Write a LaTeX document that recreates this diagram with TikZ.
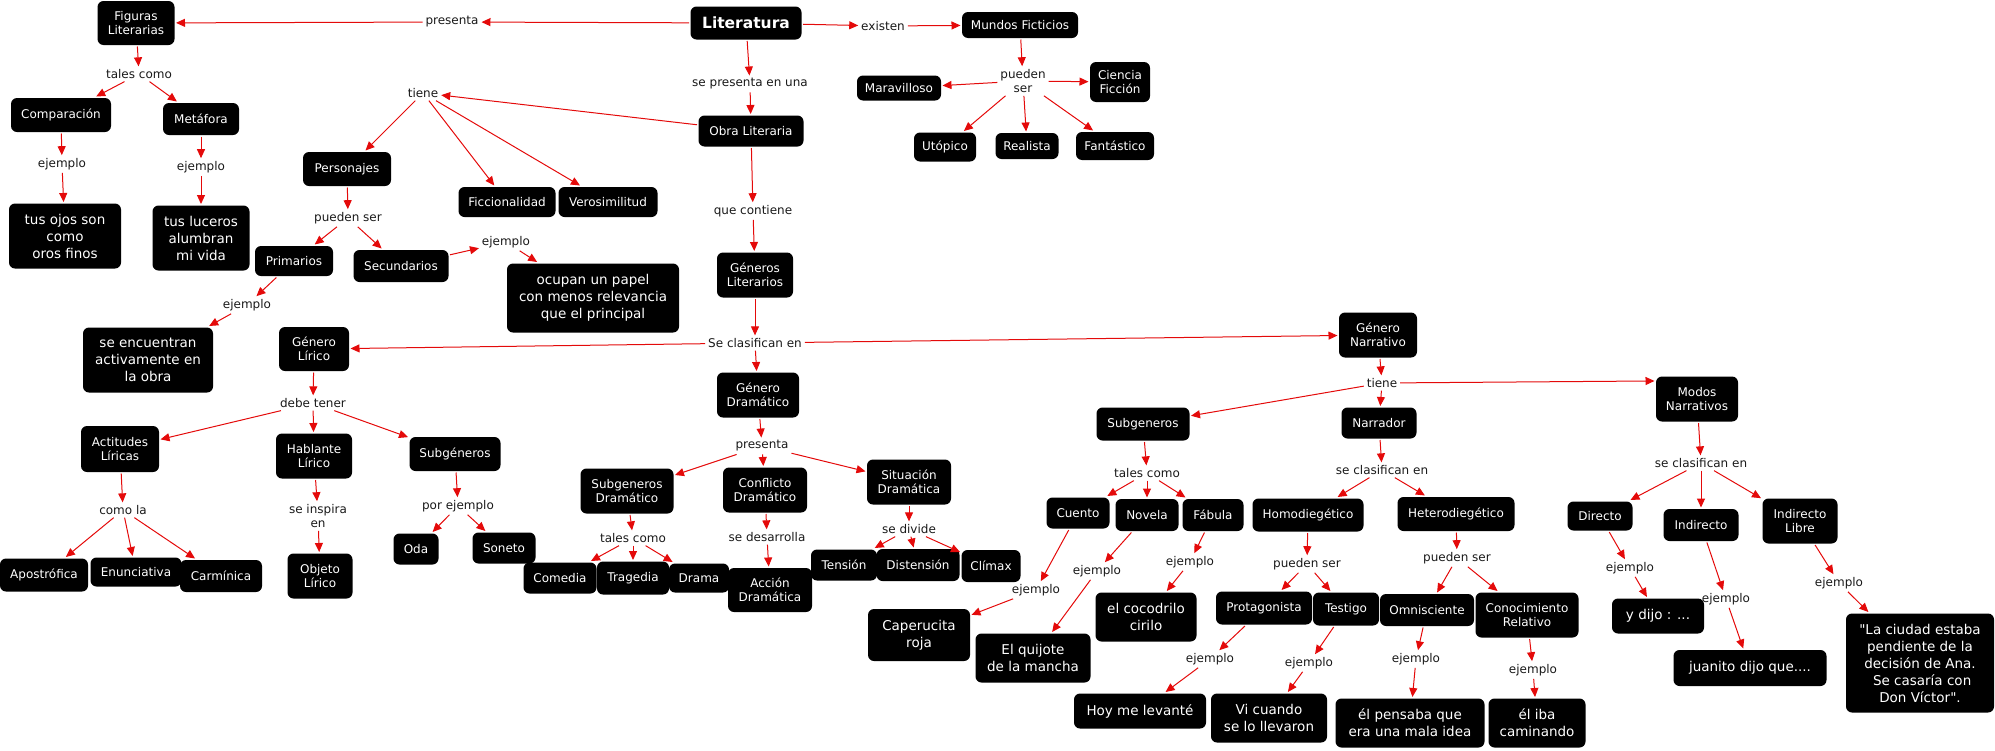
\documentclass[tikz,border=0pt]{standalone}
\usepackage{fontspec}
\setmainfont{DejaVu Sans}[Ligatures=TeXOff]
\usetikzlibrary{arrows.meta}
\definecolor{mapred}{RGB}{228,10,10}
\tikzset{
  concept/.style={fill=black, text=white, rounded corners=6pt, align=center, inner sep=2pt, outer sep=1.5pt, font=\fontsize{12}{14.3}\selectfont},
  cbox/.style 2 args={concept, minimum width=#1pt, minimum height=#2pt},
  cbig/.style 2 args={cbox={#1}{#2}, font=\fontsize{13.5}{17}\selectfont},
  phrase/.style={text=black!90, align=center, inner sep=1pt, outer sep=2pt, font=\fontsize{12}{14.3}\selectfont},
  conn/.style={draw=mapred, line width=1pt, -{Triangle[length=9pt,width=8pt]}}
}
\begin{document}
\begin{tikzpicture}[x=1pt, y=-1pt]
    \useasboundingbox (0,0) rectangle (1995,750);
    % Concepts (top part)
    \node[cbox={111}{33}, font=\bfseries\fontsize{15.5}{18}\selectfont] (lit) at (746,23) {Literatura};
    \node[cbox={77}{44}] (figlit) at (136,23) {Figuras\\Literarias};
    \node[cbox={100}{34}] (comp) at (61,115) {Comparación};
    \node[cbox={76}{32}] (meta) at (201,119) {Metáfora};
    \node[cbig={112}{65}] (ojos) at (65,236) {tus ojos son\\como\\oros finos};
    \node[cbig={97}{65}] (luceros) at (201,238) {tus luceros\\alumbran\\mi vida};
    \node[cbox={105}{31}] (obra) at (751,131) {Obra Literaria};
    \node[cbox={88}{34}] (pers) at (347,169) {Personajes};
    \node[cbox={97}{30}] (ficc) at (507,202) {Ficcionalidad};
    \node[cbox={99}{30}] (veros) at (608,202) {Verosimilitud};
    \node[cbox={78}{30}] (prim) at (294,261) {Primarios};
    \node[cbox={95}{32}] (secu) at (401,266) {Secundarios};
    \node[cbig={172}{69}] (ocupan) at (593,298) {ocupan un papel\\con menos relevancia\\que el principal};
    \node[cbig={130}{65}] (encuentran) at (148,360) {se encuentran\\activamente en\\la obra};
    \node[cbox={116}{26}] (mundos) at (1020,25) {Mundos Ficticios};
    \node[cbox={84}{25}] (marav) at (899,88) {Maravilloso};
    \node[cbox={62}{29}] (utop) at (945,147) {Utópico};
    \node[cbox={60}{40}] (cienc) at (1120,82) {Ciencia\\Ficción};
    \node[cbox={63}{26}] (real) at (1027,146) {Realista};
    \node[cbox={78}{28}] (fant) at (1115,146) {Fantástico};
    \node[cbox={76}{45}] (genlit) at (755,275) {Géneros\\Literarios};
    % Genero lirico
    \node[cbox={70}{44}] (lirico) at (314,349) {Género\\Lírico};
    \node[cbox={78}{46}] (actit) at (120,449) {Actitudes\\Líricas};
    \node[cbox={76}{45}] (habl) at (314,456) {Hablante\\Lírico};
    \node[cbox={91}{34}] (subl) at (455,454) {Subgéneros};
    \node[cbox={88}{33}] (apos) at (44,575) {Apostrófica};
    \node[cbox={91}{29}] (enun) at (136,572) {Enunciativa};
    \node[cbox={82}{32}] (carm) at (221,576) {Carmínica};
    \node[cbox={65}{45}] (objeto) at (320,576) {Objeto\\Lírico};
    \node[cbox={45}{31}] (oda) at (416,549) {Oda};
    \node[cbox={63}{31}] (soneto) at (504,548) {Soneto};
    % Genero dramatico
    \node[cbox={82}{45}] (dram) at (758,395) {Género\\Dramático};
    \node[cbox={93}{45}] (subd) at (627,491) {Subgeneros\\Dramático};
    \node[cbox={84}{45}] (confl) at (765,490) {Conflicto\\Dramático};
    \node[cbox={84}{45}] (situ) at (909,482) {Situación\\Dramática};
    \node[cbox={73}{31}] (comedia) at (560,578) {Comedia};
    \node[cbox={72}{33}] (tragedia) at (633,578) {Tragedia};
    \node[cbox={60}{29}] (drama) at (699,578) {Drama};
    \node[cbox={84}{44}] (accion) at (770,590) {Acción\\Dramática};
    \node[cbox={66}{31}] (tension) at (844,565) {Tensión};
    \node[cbox={83}{32}] (disten) at (918,565) {Distensión};
    \node[cbox={59}{32}] (climax) at (991,566) {Clímax};
    % Genero narrativo
    \node[cbox={78}{45}] (narr) at (1378,335) {Género\\Narrativo};
    \node[cbox={93}{33}] (subn) at (1143,424) {Subgeneros};
    \node[cbox={75}{31}] (narrador) at (1379,423) {Narrador};
    \node[cbox={82}{45}] (modos) at (1697,399) {Modos\\Narrativos};
    \node[cbox={63}{31}] (cuento) at (1078,513) {Cuento};
    \node[cbox={63}{32}] (novela) at (1147,515) {Novela};
    \node[cbox={61}{32}] (fabula) at (1213,515) {Fábula};
    \node[cbox={111}{33}] (homo) at (1308,515) {Homodiegético};
    \node[cbox={117}{34}] (hetero) at (1456,514) {Heterodiegético};
    \node[cbig={102}{52}] (caper) at (919,635) {Caperucita\\roja};
    \node[cbig={115}{49}] (quijote) at (1033,658) {El quijote\\de la mancha};
    \node[cbig={101}{49}] (cocod) at (1146,617) {el cocodrilo\\cirilo};
    \node[cbox={96}{33}] (prota) at (1264,608) {Protagonista};
    \node[cbox={66}{33}] (testigo) at (1346,609) {Testigo};
    \node[cbox={94}{32}] (omni) at (1427,610) {Omnisciente};
    \node[cbox={103}{45}] (conoc) at (1527,615) {Conocimiento\\Relativo};
    \node[cbig={132}{35}] (hoy) at (1140,711) {Hoy me levanté};
    \node[cbig={116}{49}] (vi) at (1269,718) {Vi cuando\\se lo llevaron};
    \node[cbig={149}{49}] (pensaba) at (1410,723) {él pensaba que\\era una mala idea};
    \node[cbig={97}{49}] (iba) at (1537,723) {él iba\\caminando};
    \node[cbox={65}{29}] (directo) at (1600,516) {Directo};
    \node[cbox={75}{32}] (indir) at (1701,525) {Indirecto};
    \node[cbox={75}{45}] (indlib) at (1800,521) {Indirecto\\Libre};
    \node[cbig={92}{35}] (ydijo) at (1658,616) {y dijo : ...};
    \node[cbig={153}{36}] (juanito) at (1750,668) {juanito dijo que....};
    \node[cbig={148}{99}] (ciudad) at (1920,663) {"La ciudad estaba\\pendiente de la\\decisión de Ana.\\\ Se casaría con\\Don Víctor".};
    % Linking phrases
    \foreach \n/\x/\y/\t in {presA/452/22/presenta, talesA/139/74/tales como, ejA/62/164/ejemplo,
        ejB/201/167/ejemplo, existen/883/26/existen, sepres/750/84/se presenta en una,
        tieneA/423/93/tiene, puedenA/1023/81/pueden\\ser, puedenB/348/218/pueden ser,
        ejC/506/242/ejemplo, ejD/247/305/ejemplo, quecont/753/211/que contiene,
        seclas/755/343/Se clasifican en, debe/313/403/debe tener, comola/123/510/como la,
        inspira/318/516/se inspira\\en, porej/458/506/por ejemplo, presB/762/446/presenta,
        talesB/633/538/tales como, desarr/767/537/se desarrolla, divide/909/529/se divide,
        tieneB/1382/383/tiene, talesC/1147/473/tales como, clasB/1382/470/se clasifican en,
        clasC/1701/463/se clasifican en, ejE/1036/590/ejemplo, ejF/1097/571/ejemplo,
        ejG/1190/562/ejemplo, puedenC/1307/564/pueden ser, puedenD/1457/558/pueden ser,
        ejH/1210/659/ejemplo, ejI/1309/663/ejemplo, ejJ/1416/659/ejemplo, ejK/1533/670/ejemplo,
        ejL/1630/568/ejemplo, ejM/1726/599/ejemplo, ejN/1839/583/ejemplo} {
        \node[phrase] (\n) at (\x,\y) {\t};
    }
    % Connectors
    \foreach \a/\b in {lit/presA, presA/figlit, figlit/talesA, talesA/comp, talesA/meta,
        comp/ejA, ejA/ojos, meta/ejB, ejB/luceros, lit/existen, existen/mundos,
        mundos/puedenA, puedenA/marav, puedenA/utop, puedenA/real, puedenA/fant, puedenA/cienc,
        lit/sepres, sepres/obra, obra/tieneA, tieneA/pers, tieneA/ficc, tieneA/veros,
        pers/puedenB, puedenB/prim, puedenB/secu, secu/ejC, ejC/ocupan, prim/ejD, ejD/encuentran,
        obra/quecont, quecont/genlit, genlit/seclas, seclas/lirico, seclas/dram, seclas/narr,
        lirico/debe, debe/actit, debe/habl, debe/subl, actit/comola, comola/apos, comola/enun,
        comola/carm, habl/inspira, inspira/objeto, subl/porej, porej/oda, porej/soneto,
        dram/presB, presB/subd, presB/confl, presB/situ, subd/talesB, talesB/comedia,
        talesB/tragedia, talesB/drama, confl/desarr, desarr/accion, situ/divide,
        divide/tension, divide/disten, divide/climax,
        narr/tieneB, tieneB/subn, tieneB/narrador, tieneB/modos.157, subn/talesC,
        talesC/cuento, talesC/novela, talesC/fabula, narrador/clasB, clasB/homo, clasB/hetero,
        modos/clasC, clasC/directo, clasC/indir, clasC/indlib,
        cuento/ejE, ejE/caper, novela/ejF, ejF/quijote, fabula/ejG, ejG/cocod,
        homo/puedenC, puedenC/prota, puedenC/testigo, hetero/puedenD, puedenD/omni, puedenD/conoc,
        prota/ejH, ejH/hoy, testigo/ejI, ejI/vi, omni/ejJ, ejJ/pensaba, conoc/ejK, ejK/iba,
        directo/ejL, ejL/ydijo, indir/ejM, ejM/juanito, indlib/ejN, ejN/ciudad} {
        \draw[conn] (\a) -- (\b);
    }
\end{tikzpicture}
\end{document}
